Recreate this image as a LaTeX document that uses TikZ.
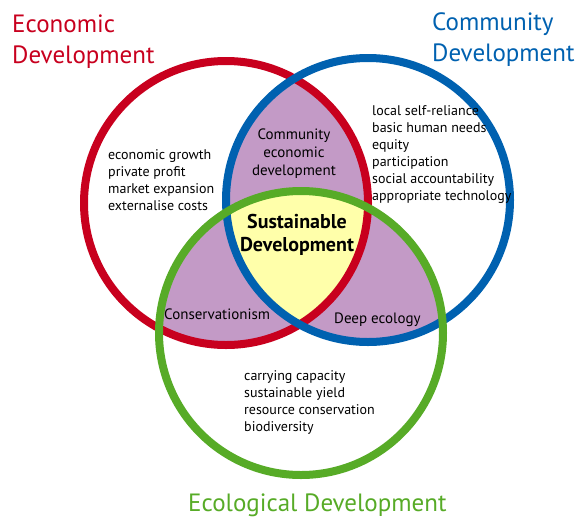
\documentclass[tikz,border=0pt]{standalone}
\usepackage{fontspec}
\setmainfont{PT Sans}
\begin{document}
\definecolor{ecored}{HTML}{C8001E}
\definecolor{comblue}{HTML}{0061B0}
\definecolor{ecogreen}{HTML}{57AB27}
\definecolor{overlap}{HTML}{C39AC6}
\definecolor{core}{HTML}{FFFFAA}
\begin{tikzpicture}[x=1pt,y=-1pt,
  ring/.style={line width=8pt},
  title/.style={font=\fontsize{25}{30.5}\selectfont, align=left, inner sep=0pt, anchor=base west},
  listtext/.style={font=\fontsize{14}{17}\selectfont, align=left, inner sep=0pt, anchor=base west},
  zonetext/.style={font=\fontsize{15}{18}\selectfont, align=center, inner sep=0pt, anchor=base},
  coretext/.style={font=\bfseries\fontsize{20}{23}\selectfont, align=center, inner sep=0pt, anchor=base}]
\useasboundingbox (0,0) rectangle (581,517);
\def\rr{142}
\coordinate (E) at (226,203);
\coordinate (C) at (368,200);
\coordinate (G) at (301,333);
% pairwise overlaps
\begin{scope}\clip (E) circle (\rr); \fill[overlap] (C) circle (\rr); \fill[overlap] (G) circle (\rr);\end{scope}
\begin{scope}\clip (C) circle (\rr); \fill[overlap] (G) circle (\rr);\end{scope}
% common core
\begin{scope}\clip (E) circle (\rr); \clip (C) circle (\rr); \fill[core] (G) circle (\rr);\end{scope}
% rings
\draw[ring, ecored] (E) circle (\rr);
\draw[ring, comblue] (C) circle (\rr);
\draw[ring, ecogreen] (G) circle (\rr);
% titles (anchored at the baseline of the last line)
\node[title, text=ecored] (teco) at (12,63) {Economic\\Development};
\node[title, text=comblue] (tcom) at (432,61) {Community\\Development};
\node[title, text=ecogreen] (tgreen) at (188,511) {Ecological Development};
% lists
\node[listtext] (leco) at (108,210) {economic growth\\private profit\\market expansion\\externalise costs};
\node[listtext] (lcom) at (372,200) {local self-reliance\\basic human needs\\equity\\participation\\social accountability\\appropriate technology};
\node[listtext] (lgreen) at (244,431) {carrying capacity\\sustainable yield\\resource conservation\\biodiversity};
% overlap labels
\node[zonetext] (zec) at (294,175) {Community\\economic\\development};
\node[zonetext, anchor=base west] (zcons) at (164,319) {Conservationism};
\node[zonetext, anchor=base west] (zdeep) at (334,323) {Deep ecology};
\node[coretext] (zcore) at (297,251) {Sustainable\\Development};
\end{tikzpicture}
\end{document}
